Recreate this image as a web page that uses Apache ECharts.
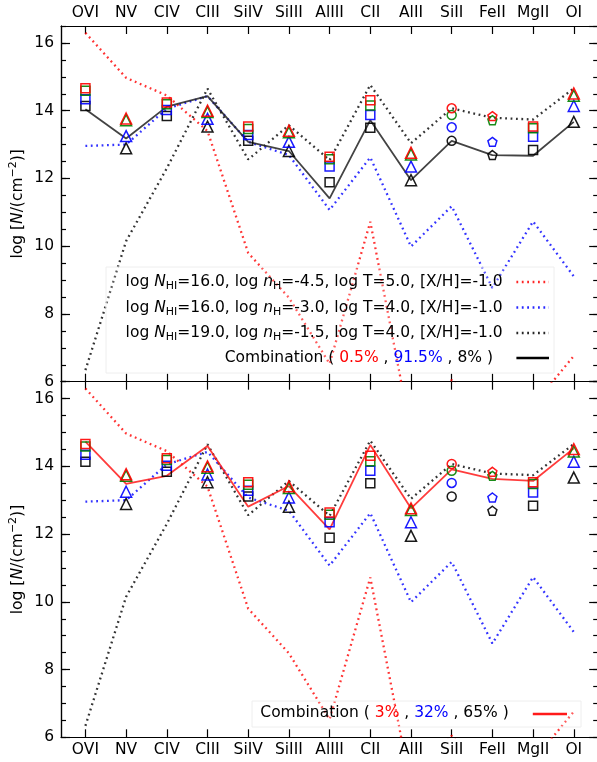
<!DOCTYPE html>
<html>
<head>
<meta charset="utf-8">
<title>Column densities</title>
<script src="https://cdn.jsdelivr.net/npm/echarts@6/dist/echarts.min.js"></script>
</head>
<body style="margin:0">
<div id="main" style="width:597px;height:762px;"></div>
<script>
// ions along the x axis
var ions = ['OVI', 'NV', 'CIV', 'CIII', 'SiIV', 'SiIII', 'AlIII', 'CII', 'AlII', 'SiII', 'FeII', 'MgII', 'OI'];
var ionSymbol = ['rect', 'triangle', 'rect', 'triangle', 'rect', 'triangle', 'rect', 'rect', 'triangle', 'circle', 'pentagon', 'rect', 'triangle'];

// observed columns (four sets)
var obsRed   = [14.66, 13.77, 14.24, 14.00, 13.53, 13.41, 12.64, 14.31, 12.76, 14.07, 13.84, 13.53, 14.51];
var obsGreen = [14.59, 13.72, 14.19, 13.96, 13.46, 13.36, 12.57, 14.15, 12.71, 13.87, 13.72, 13.48, 14.44];
var obsBlue  = [14.34, 13.25, 14.02, 13.76, 13.28, 13.08, 12.35, 13.87, 12.35, 13.51, 13.08, 13.23, 14.14];
var obsBlack = [14.14, 12.89, 13.84, 13.53, 13.11, 12.81, 11.89, 13.50, 11.95, 13.11, 12.69, 12.84, 13.67];

// model phases
var model1 = [16.30, 14.97, 14.45, 13.40, 9.80, 8.48, 6.53, 10.72, 4.50, 6.05, 4.60, 5.30, 6.76];
var model2 = [12.96, 13.00, 14.06, 14.43, 13.08, 12.69, 11.07, 12.62, 9.99, 11.18, 8.77, 10.73, 9.11];
var model3 = [6.34, 10.15, 12.30, 14.65, 12.56, 13.57, 12.54, 14.76, 13.04, 14.07, 13.79, 13.74, 14.66];

// combinations
var combTop    = [14.04, 13.18, 14.12, 14.43, 13.08, 12.81, 11.41, 13.72, 11.95, 13.11, 12.69, 12.67, 13.67];
var combBottom = [14.73, 13.48, 13.72, 14.60, 12.81, 13.42, 12.14, 14.63, 12.76, 13.91, 13.63, 13.57, 14.53];

var idx = ions.map(function (d, i) { return i; });
var FONT = 'DejaVu Sans';
var pentagon = 'path://M0,-1 L0.951,-0.309 L0.588,0.809 L-0.588,0.809 L-0.951,-0.309 Z';
var symSize = { rect: 9, triangle: 11, circle: 9, pentagon: 9 };

function xAx(grid, pos, labels) {
    return {
        type: 'value', gridIndex: grid, position: pos, min: -0.6, max: 12.6,
        splitLine: { show: false },
        axisLine: { show: true, onZero: false, lineStyle: { color: '#000', width: 1.2 } },
        axisTick: { show: true, inside: true, length: 8, customValues: idx, lineStyle: { color: '#000', width: 1.2 } },
        axisLabel: {
            show: labels, customValues: idx, margin: 5, color: '#000', fontSize: 15.5, fontFamily: FONT,
            formatter: function (v) { return ions[Math.round(v)]; }
        }
    };
}

function yAx(grid, pos, interval, tickLen, labels) {
    var ax = {
        type: 'value', gridIndex: grid, position: pos, min: 6, max: 16.5, interval: interval,
        splitLine: { show: false },
        axisLine: { show: true, onZero: false, lineStyle: { color: '#000', width: 1.2 } },
        axisTick: { show: true, inside: true, length: tickLen, lineStyle: { color: '#000', width: 1.2 } },
        axisLabel: { show: labels, showMaxLabel: false, margin: 7, color: '#000', fontSize: 15.5, fontFamily: FONT }
    };
    if (labels) {
        ax.name = 'log [{i|N}/(cm{sup|\u22122})]';
        ax.nameLocation = 'middle';
        ax.nameGap = 33;
        ax.nameMoveOverlap = false;
        ax.nameTextStyle = {
            color: '#000', fontSize: 15.5, fontFamily: FONT, lineHeight: 20,
            rich: {
                i: { fontStyle: 'italic', fontSize: 15.5, fontFamily: FONT, color: '#000' },
                sup: { fontSize: 11, fontFamily: FONT, color: '#000', verticalAlign: 'top' }
            }
        };
    }
    return ax;
}

function modelLine(vals, color, xi, yi) {
    return {
        type: 'line', xAxisIndex: xi, yAxisIndex: yi, symbol: 'none', clip: true, silent: true, z: 2,
        data: vals.map(function (v, i) { return [i, v]; }),
        lineStyle: { color: color, width: 2.3, type: [1.8, 3.6], opacity: 0.8 }
    };
}

function combLine(vals, color, xi, yi) {
    return {
        type: 'line', xAxisIndex: xi, yAxisIndex: yi, symbol: 'none', clip: true, silent: true, z: 3,
        data: vals.map(function (v, i) { return [i, v]; }),
        lineStyle: { color: color, width: 1.8, opacity: 0.85 }
    };
}

function obs(vals, color, xi, yi) {
    return {
        type: 'scatter', xAxisIndex: xi, yAxisIndex: yi, silent: true, z: 5,
        data: vals.map(function (v, i) {
            var s = ionSymbol[i];
            return { value: [i, v], symbol: s === 'pentagon' ? pentagon : s, symbolSize: symSize[s] };
        }),
        itemStyle: { color: 'rgba(0,0,0,0)', borderColor: color, borderWidth: 1.5, opacity: 0.9 }
    };
}

function panelSeries(xi, yi, comb, combColor) {
    return [
        modelLine(model1, '#ff0000', xi, yi),
        modelLine(model2, '#0000ff', xi, yi),
        modelLine(model3, '#000000', xi, yi),
        combLine(comb, combColor, xi, yi),
        obs(obsBlack, '#000000', xi, yi),
        obs(obsBlue, '#0000ff', xi, yi),
        obs(obsGreen, '#008000', xi, yi),
        obs(obsRed, '#ff0000', xi, yi)
    ];
}

var subStyle = { fontSize: 11, fontFamily: FONT, verticalAlign: 'bottom' };
var itStyle = { fontStyle: 'italic', fontSize: 15.5, fontFamily: FONT };

function legendText(str, x, y, rich) {
    return {
        type: 'text', z: 100, silent: true,
        style: {
            text: str, x: x, y: y, align: 'right', verticalAlign: 'middle',
            fontSize: 15.5, fontFamily: FONT, fill: '#000', lineHeight: 20,
            rich: rich
        }
    };
}
function legendLine(x1, x2, y, color, dotted, w) {
    return {
        type: 'line', z: 100, silent: true,
        shape: { x1: x1, y1: y, x2: x2, y2: y },
        style: { stroke: color, lineWidth: w, lineDash: dotted ? [1.8, 3.6] : null, opacity: dotted ? 0.85 : 1 }
    };
}

var richA = { i: itStyle, s: subStyle };
var richC = {
    r: { fill: '#ff0000', fontSize: 15.5, fontFamily: FONT },
    b: { fill: '#0000ff', fontSize: 15.5, fontFamily: FONT }
};

var chart = echarts.init(document.getElementById('main'));
chart.setOption({
    animation: false,
    backgroundColor: '#fff',
    grid: [
        { left: 61, top: 26, width: 537.2, height: 355.7, containLabel: false, outerBoundsMode: 'none' },
        { left: 61, top: 381.7, width: 537.2, height: 355.6, containLabel: false, outerBoundsMode: 'none' }
    ],
    xAxis: [xAx(0, 'top', true), xAx(0, 'bottom', false), xAx(1, 'top', false), xAx(1, 'bottom', true)],
    yAxis: [
        yAx(0, 'left', 2, 9, true), yAx(0, 'left', 0.5, 5, false), yAx(0, 'right', 2, 9, false), yAx(0, 'right', 0.5, 5, false),
        yAx(1, 'left', 2, 9, true), yAx(1, 'left', 0.5, 5, false), yAx(1, 'right', 2, 9, false), yAx(1, 'right', 0.5, 5, false)
    ],
    series: panelSeries(0, 0, combTop, '#222222').concat(panelSeries(3, 4, combBottom, '#ff1a1a')),
    graphic: [
        { type: 'rect', z: 99, silent: true, shape: { x: 106, y: 267, width: 448, height: 106 },
          style: { fill: 'rgba(255,255,255,0.2)', stroke: '#eeeeee', lineWidth: 1 } },
        legendText('log {i|N}{s|HI}=16.0, log {i|n}{s|H}=-4.5, log T=5.0, [X/H]=-1.0', 502.7, 282, richA),
        legendText('log {i|N}{s|HI}=16.0, log {i|n}{s|H}=-3.0, log T=4.0, [X/H]=-1.0', 502.7, 307.5, richA),
        legendText('log {i|N}{s|HI}=19.0, log {i|n}{s|H}=-1.5, log T=4.0, [X/H]=-1.0', 502.7, 333, richA),
        legendText('Combination ( {r|0.5%} , {b|91.5%} , 8% )', 493, 358, richC),
        legendLine(516.4, 549, 282, '#ff0000', true, 2.3),
        legendLine(516.4, 549, 307.5, '#0000ff', true, 2.3),
        legendLine(516.4, 549, 333, '#000000', true, 2.3),
        legendLine(516.4, 549, 358, '#000000', false, 2.5),
        { type: 'rect', z: 99, silent: true, shape: { x: 252, y: 701, width: 329, height: 26 },
          style: { fill: 'rgba(255,255,255,0.2)', stroke: '#eeeeee', lineWidth: 1 } },
        legendText('Combination ( {r|3%} , {b|32%} , 65% )', 508.8, 713.3, richC),
        legendLine(532.8, 567, 714, '#ff1a1a', false, 2.5)
    ]
});
</script>
</body>
</html>
